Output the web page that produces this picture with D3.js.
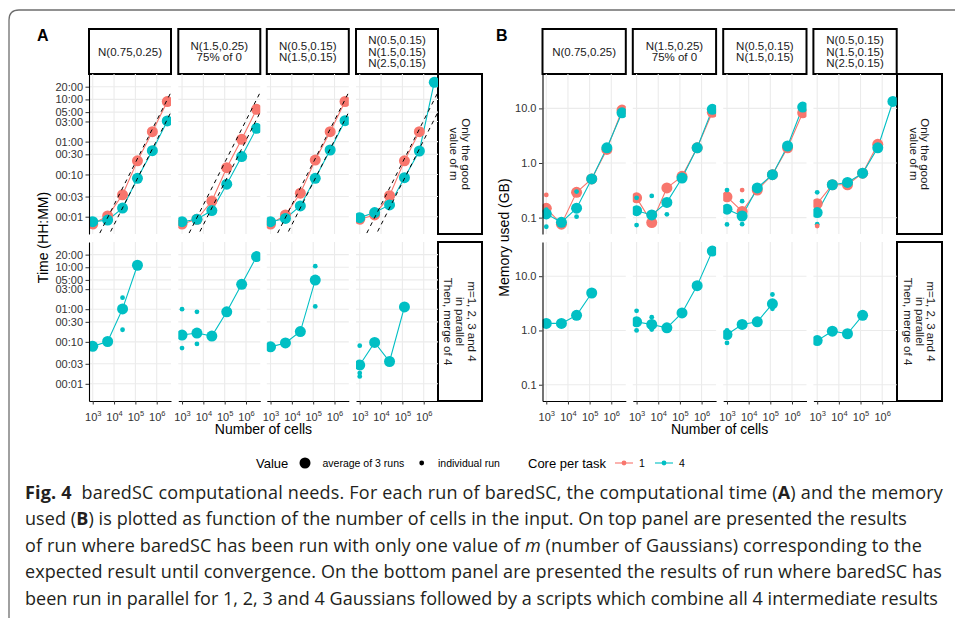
<!DOCTYPE html>
<html>
<head>
<meta charset="utf-8">
<script src="https://cdn.jsdelivr.net/npm/d3@7"></script>
<style>
  body { margin: 0; background: #fff; }
  svg { display: block; }
</style>
</head>
<body>
<div class="canvas"></div>
<script>
// ---- data ----
const cells = [1e3, 5e3, 2.5e4, 1.25e5, 6.25e5, 3.125e6];
const scenarios = ['N(0.75,0.25)', 'N(1.5,0.25)|75% of 0', 'N(0.5,0.15)|N(1.5,0.15)', 'N(0.5,0.15)|N(1.5,0.15)|N(2.5,0.15)'];
const modes = ['Only the good|value of m', 'm=1, 2, 3 and 4|in parallel|Then, merge of 4'];
const cores = ['1', '4'];
const coreColors = ['#F8766D', '#00BFC4'];

const xTicks = [1e3, 1e4, 1e5, 1e6];
const xExponents = ['3', '4', '5', '6'];

// time in minutes
const timeTicks = [1, 3, 10, 30, 60, 180, 300, 600, 1200];
const timeLabels = ['00:01', '00:03', '00:10', '00:30', '01:00', '03:00', '05:00', '10:00', '20:00'];
// dashed reference lines (minutes per cell)
const timeRefSlopes = [1 / 5250, 1 / 15500];

const timeGoodCore1 = [
  [0.67, 1.04, 3.3, 21, 103, 532],
  [0.67, 0.87, 2.35, 14.5, 68, 350],
  [0.67, 1.1, 3.6, 22, 103, 535],
  [0.87, 1.1, 3.15, 21, 103, null]
];
const timeGoodCore4 = [
  [0.76, 0.83, 1.6, 8.1, 36.6, 185],
  [0.76, 0.87, 1.4, 5.9, 26.5, 124],
  [0.76, 0.91, 1.8, 8.1, 38, 188],
  [0.95, 1.25, 1.9, 8.4, 36, 1520]
];
const timeMergeCore4 = [
  [7.8, 10.2, 61, 670, null, null],
  [14.5, 16.2, 13.7, 52, 235, 1075],
  [7.6, 9.4, 17.6, 296, null, null],
  [2.8, 9.7, 3.4, 68, null, null]
];
// individual runs: [core, scenario, cell index, value]
const timeMergeRuns = [
  [1, 0, 2, 113], [1, 0, 2, 19.4],
  [1, 1, 0, 60], [1, 1, 0, 7.1], [1, 1, 1, 52], [1, 1, 1, 8.9],
  [1, 2, 3, 636], [1, 2, 3, 70],
  [1, 3, 0, 8.1], [1, 3, 0, 1.8], [1, 3, 0, 1.5]
];

// memory in GB
const memTicks = [0.1, 1, 10];
const memLabels = ['0.1', '1.0', '10.0'];
const memGoodCore1 = [
  [0.148, 0.076, 0.29, 0.51, 1.77, 9.3],
  [0.23, 0.081, 0.35, 0.57, 1.9, 8.5],
  [0.24, 0.13, 0.32, 0.61, 1.9, 8.3],
  [0.18, 0.4, 0.4, 0.65, 2.2, null]
];
const memGoodCore4 = [
  [0.117, 0.082, 0.149, 0.51, 1.9, 8.3],
  [0.134, 0.112, 0.19, 0.53, 1.9, 9.6],
  [0.143, 0.107, 0.35, 0.61, 2.05, 10.6],
  [0.124, 0.4, 0.44, 0.65, 1.9, 13.4]
];
const memMergeCore4 = [
  [1.35, 1.35, 1.9, 4.9, null, null],
  [1.44, 1.29, 1.12, 2.1, 6.7, 29],
  [0.84, 1.29, 1.44, 3.1, null, null],
  [0.65, 0.97, 0.87, 1.9, null, null]
];
const memGoodRuns = [
  [0, 0, 0, 0.26], [1, 0, 0, 0.068], [1, 0, 0, 0.14], [1, 0, 2, 0.3], [1, 0, 2, 0.104],
  [1, 1, 0, 0.073], [1, 1, 0, 0.23], [1, 1, 1, 0.25], [1, 1, 2, 0.115],
  [1, 2, 0, 0.32], [1, 2, 0, 0.075], [0, 2, 1, 0.32], [1, 2, 1, 0.2], [1, 2, 1, 0.076],
  [1, 3, 0, 0.29], [1, 3, 0, 0.076], [0, 3, 0, 0.07]
];
const memMergeRuns = [
  [1, 0, 3, 5.5], [1, 0, 3, 4.5],
  [1, 1, 0, 2.3], [1, 1, 0, 1.0], [1, 1, 1, 1.76], [1, 1, 1, 1.04],
  [1, 2, 0, 0.59], [1, 2, 0, 1.0], [1, 2, 3, 4.6], [1, 2, 3, 2.5]
];

// ---- layout ----
const W = 955, H = 618;
const rowTop = [74, 242];
const rowH = [160, 159];
const xDomain = [10 ** 2.825, 10 ** 6.67];

const svg = d3.select('.canvas')
  .append('svg')
  .attr('width', W)
  .attr('height', H)
  .style('font-family', '"Liberation Sans", Arial, sans-serif');

const defs = svg.append('defs');

// frame around the figure
svg.append('path')
  .attr('d', 'M955,10 H19 Q9,10 9,20 V618')
  .attr('fill', 'none')
  .attr('stroke', '#6e6e6e')
  .attr('stroke-width', 1.3);

const figA = {
  letter: 'A', letterX: 37,
  panelX: [89, 178.3, 266.8, 356], panelW: 82,
  stripX: 438, stripW: 44,
  yDomain: [10 ** -0.41, 10 ** 3.38], yTicks: timeTicks, yLabels: timeLabels,
  yTitle: 'Time (HH:MM)', yTitleX: 48,
  rows: [
    { series: [{ core: 0, values: timeGoodCore1 }, { core: 1, values: timeGoodCore4 }], runs: [], refs: timeRefSlopes },
    { series: [{ core: 1, values: timeMergeCore4 }], runs: timeMergeRuns, refs: [] }
  ]
};

const figB = {
  letter: 'B', letterX: 496,
  panelX: [542.5, 632.8, 723.2, 813.4], panelW: 83.3,
  stripX: 897, stripW: 45,
  yDomain: [10 ** -1.3, 10 ** 1.63], yTicks: memTicks, yLabels: memLabels,
  yTitle: 'Memory used (GB)', yTitleX: 509,
  rows: [
    { series: [{ core: 0, values: memGoodCore1 }, { core: 1, values: memGoodCore4 }], runs: memGoodRuns, refs: [] },
    { series: [{ core: 1, values: memMergeCore4 }], runs: memMergeRuns, refs: [] }
  ]
};

function multiline(sel, label, cx, cy, lh) {
  const lines = label.split('|');
  const t = sel.append('text')
    .attr('text-anchor', 'middle')
    .style('font-size', '11.5px')
    .attr('fill', '#1a1a1a');
  lines.forEach((l, i) => {
    t.append('tspan')
      .attr('x', cx)
      .attr('y', cy + (i - (lines.length - 1) / 2) * lh + 4)
      .text(l);
  });
  return t;
}

function drawFigure(f) {
  const x = d3.scaleLog().domain(xDomain).range([0, f.panelW]);

  svg.append('text')
    .attr('x', f.letterX).attr('y', 41)
    .style('font-size', '16px').style('font-weight', 'bold')
    .text(f.letter);

  // top strips
  scenarios.forEach((s, p) => {
    svg.append('rect')
      .attr('x', f.panelX[p]).attr('y', 29)
      .attr('width', f.panelW).attr('height', 45)
      .attr('fill', '#fff').attr('stroke', '#000').attr('stroke-width', 2);
    multiline(svg, s, f.panelX[p] + f.panelW / 2, 51.5, 11.7);
  });

  f.rows.forEach((row, r) => {
    const rh = rowH[r];
    const y = d3.scaleLog().domain(f.yDomain).range([rh, 0]);

    // right strip
    svg.append('rect')
      .attr('x', f.stripX).attr('y', rowTop[r])
      .attr('width', f.stripW).attr('height', rh)
      .attr('fill', '#fff').attr('stroke', '#000').attr('stroke-width', 2);
    const sg = svg.append('g')
      .attr('transform', `translate(${f.stripX + f.stripW / 2},${rowTop[r] + rh / 2}) rotate(90)`);
    multiline(sg, modes[r], 0, 0, 11.7);

    scenarios.forEach((s, p) => {
      const g = svg.append('g')
        .attr('transform', `translate(${f.panelX[p]},${rowTop[r]})`);
      const clipId = `clip-${f.letter}-${r}-${p}`;
      defs.append('clipPath').attr('id', clipId)
        .append('rect').attr('width', f.panelW).attr('height', rh);

      // grid
      g.selectAll('.gx').data(xTicks).join('line')
        .attr('x1', d => x(d)).attr('x2', d => x(d))
        .attr('y1', 0).attr('y2', rh)
        .attr('stroke', '#ebebeb').attr('stroke-width', 1.1);
      g.selectAll('.gy').data(f.yTicks).join('line')
        .attr('x1', 0).attr('x2', f.panelW)
        .attr('y1', d => y(d)).attr('y2', d => y(d))
        .attr('stroke', '#ebebeb').attr('stroke-width', 1.1);

      const plot = g.append('g').attr('clip-path', `url(#${clipId})`);

      // lines joining the averages
      row.series.forEach(se => {
        const pts = cells.map((c, i) => ({ c, v: se.values[p][i] })).filter(d => d.v != null);
        plot.append('path')
          .datum(pts)
          .attr('d', d3.line().x(d => x(d.c)).y(d => y(d.v)))
          .attr('fill', 'none')
          .attr('stroke', coreColors[se.core])
          .attr('stroke-width', 1.1);
      });
      // average points
      row.series.forEach(se => {
        const pts = cells.map((c, i) => ({ c, v: se.values[p][i] })).filter(d => d.v != null);
        plot.selectAll(null).data(pts).join('circle')
          .attr('cx', d => x(d.c)).attr('cy', d => y(d.v))
          .attr('r', 5.5)
          .attr('fill', coreColors[se.core]);
      });
      // individual runs
      plot.selectAll(null).data(row.runs.filter(d => d[1] === p)).join('circle')
        .attr('cx', d => x(cells[d[2]])).attr('cy', d => y(d[3]))
        .attr('r', 2.4)
        .attr('fill', d => coreColors[d[0]]);
      // reference lines
      row.refs.forEach(k => {
        plot.append('path')
          .datum(xDomain)
          .attr('d', d3.line().x(d => x(d)).y(d => y(d * k)))
          .attr('fill', 'none')
          .attr('stroke', '#000')
          .attr('stroke-width', 1)
          .attr('stroke-dasharray', '4,4');
      });

      // y axis on first column
      if (p === 0) {
        const ya = g.append('g')
          .call(d3.axisLeft(y).tickValues(f.yTicks)
            .tickFormat((d, i) => f.yLabels[i])
            .tickSize(3.5).tickSizeOuter(0).tickPadding(2.5));
        ya.select('.domain').attr('stroke', '#000').attr('stroke-width', 1.1);
        ya.selectAll('.tick line').attr('stroke', '#333');
        ya.selectAll('.tick text').attr('fill', '#333')
          .style('font-size', '11px').style('font-family', '"Liberation Sans", Arial, sans-serif');
      }
      // x axis on bottom row
      if (r === 1) {
        const xa = g.append('g')
          .attr('transform', `translate(0,${rh})`)
          .call(d3.axisBottom(x).tickValues(xTicks).tickFormat('')
            .tickSize(3.5).tickSizeOuter(0).tickPadding(3));
        xa.select('.domain').attr('stroke', '#000').attr('stroke-width', 1.1);
        xa.selectAll('.tick line').attr('stroke', '#333');
        xa.selectAll('.tick text')
          .attr('fill', '#333')
          .attr('dy', '1.2em')
          .style('font-size', '11px')
          .style('font-family', '"Liberation Sans", Arial, sans-serif')
          .each(function (d, i) {
            const t = d3.select(this);
            t.append('tspan').text('10');
            t.append('tspan').attr('dy', -5).style('font-size', '7.5px').text(xExponents[i]);
          });
      }
    });
  });

  // axis titles
  const last = f.panelX[3] + f.panelW;
  svg.append('text')
    .attr('x', (f.panelX[0] + last) / 2).attr('y', 434)
    .attr('text-anchor', 'middle')
    .style('font-size', '14px').attr('fill', '#000')
    .text('Number of cells');
  svg.append('text')
    .attr('transform', `translate(${f.yTitleX},${(rowTop[0] + rowTop[1] + rowH[1]) / 2}) rotate(-90)`)
    .attr('text-anchor', 'middle')
    .style('font-size', '14px').attr('fill', '#000')
    .text(f.yTitle);
}

drawFigure(figA);
drawFigure(figB);

// ---- legend ----
const lg = svg.append('g').attr('transform', 'translate(0,463)');
lg.append('text').attr('x', 256).attr('y', 4.5).style('font-size', '13px').text('Value');
lg.append('circle').attr('cx', 305).attr('cy', 0).attr('r', 5.5).attr('fill', '#000');
lg.append('text').attr('x', 322.5).attr('y', 3.5).style('font-size', '10.5px').text('average of 3 runs');
lg.append('circle').attr('cx', 421.7).attr('cy', 0).attr('r', 2.4).attr('fill', '#000');
lg.append('text').attr('x', 438).attr('y', 3.5).style('font-size', '10.5px').text('individual run');
lg.append('text').attr('x', 528).attr('y', 4.5).style('font-size', '13px').text('Core per task');
const keyX = [615, 655];
cores.forEach((c, i) => {
  lg.append('line').attr('x1', keyX[i]).attr('x2', keyX[i] + 18).attr('y1', 0).attr('y2', 0)
    .attr('stroke', coreColors[i]).attr('stroke-width', 1.1);
  lg.append('circle').attr('cx', keyX[i] + 9).attr('cy', 0).attr('r', 2.4).attr('fill', coreColors[i]);
  lg.append('text').attr('x', keyX[i] + 24).attr('y', 3.5).style('font-size', '10.5px').text(c);
});

// ---- caption ----
const captionLines = [
  [['b', 'Fig. 4'], ['n', '\u00a0 baredSC computational needs. For each run of baredSC, the computational time ('], ['b', 'A'], ['n', ') and the memory']],
  [['n', 'used ('], ['b', 'B'], ['n', ') is plotted as function of the number of cells in the input. On top panel are presented the results']],
  [['n', 'of run where baredSC has been run with only one value of '], ['i', 'm'], ['n', ' (number of Gaussians) corresponding to the']],
  [['n', 'expected result until convergence. On the bottom panel are presented the results of run where baredSC has']],
  [['n', 'been run in parallel for 1, 2, 3 and 4 Gaussians followed by a scripts which combine all 4 intermediate results']]
];
const captionWidths = [918, 882, 897, 917, 913];
const captionBase = 498.5, captionStep = 26.6;

captionLines.forEach((parts, li) => {
  const t = svg.append('text')
    .attr('x', 25).attr('y', captionBase + li * captionStep)
    .style('font-family', '"Open Sans", "Noto Sans", sans-serif')
    .style('font-size', '18px')
    .attr('fill', '#231f20');
  parts.forEach(([k, s]) => {
    const ts = t.append('tspan').text(s);
    if (k === 'b') ts.style('font-weight', 'bold');
    if (k === 'i') ts.style('font-style', 'italic');
  });
  // fit each line to the width it has in the figure by letter spacing
  const natural = t.node().getComputedTextLength();
  const n = t.text().length;
  t.style('letter-spacing', ((captionWidths[li] - natural) / n) + 'px');
});
</script>
</body>
</html>
